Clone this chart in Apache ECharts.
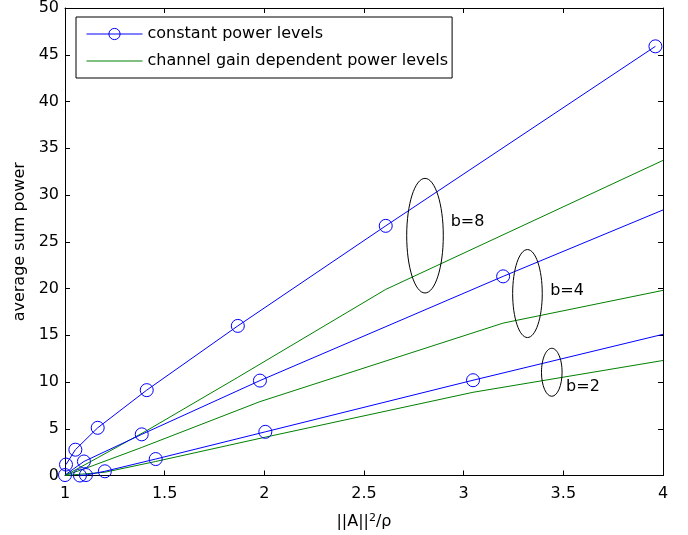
<!DOCTYPE html>
<html>
<head>
<meta charset="utf-8">
<script src="https://cdn.jsdelivr.net/npm/echarts@6/dist/echarts.min.js"></script>
<style>
  html, body { margin: 0; padding: 0; background: #fff; }
  #chart { width: 688px; height: 535px; }
</style>
</head>
<body>
<div id="chart"></div>
<script>
// constant power levels (blue, circles)
const b8ConstX = [1.005, 1.052, 1.164, 1.41, 1.867, 2.609, 3.962];
const b8ConstY = [1.17, 2.76, 5.1, 9.13, 16.0, 26.7, 45.9];
const b4ConstX = [1.0, 1.095, 1.385, 1.978, 3.198, 4.0];
const b4ConstY = [0.05, 1.5, 4.4, 10.15, 21.3, 28.4];
const b2ConstX = [1.075, 1.105, 1.2, 1.455, 2.005, 3.047, 4.0];
const b2ConstY = [0.0, 0.05, 0.45, 1.76, 4.67, 10.19, 15.1];

// channel gain dependent power levels (green, no markers)
const b8GainX = [1.0, 1.164, 1.41, 1.867, 2.609, 4.0];
const b8GainY = [0.0, 1.9, 4.8, 10.5, 19.9, 33.7];
const b4GainX = [1.0, 1.095, 1.385, 1.978, 3.198, 4.0];
const b4GainY = [0.0, 0.7, 3.0, 7.9, 16.3, 19.8];
const b2GainX = [1.0, 1.2, 1.455, 2.005, 3.047, 4.0];
const b2GainY = [0.0, 0.35, 1.5, 4.1, 8.9, 12.3];

// annotations: ellipse centres and labels
const groupLabels = ['b=8', 'b=4', 'b=2'];
const ellipseX = [2.806, 3.320, 3.442];
const ellipseY = [25.65, 19.46, 11.04];
const ellipseRx = [18.3, 14.8, 10.3];
const ellipseRy = [57.3, 44, 24];
const labelX = [2.935, 3.434, 3.514];
const labelY = [27.15, 19.8, 9.48];

const FONT = 'DejaVu Sans';
const BLUE = '#0000ff';
const GREEN = '#008000';
const zip = (xs, ys) => xs.map((x, i) => [x, ys[i]]);

function blue(xs, ys) {
    return {
        name: 'constant power levels',
        type: 'line',
        data: zip(xs, ys),
        symbol: v => (v[0] >= 4 ? 'none' : 'circle'),
        symbolSize: 13,
        lineStyle: { color: BLUE, width: 1 },
        itemStyle: { color: 'rgba(0,0,0,0)', borderColor: BLUE, borderWidth: 1 },
        emphasis: { disabled: true },
        z: 3
    };
}
function green(xs, ys) {
    return {
        name: 'channel gain dependent power levels',
        type: 'line',
        data: zip(xs, ys),
        symbol: 'none',
        lineStyle: { color: GREEN, width: 1 },
        itemStyle: { color: GREEN },
        emphasis: { disabled: true },
        z: 2
    };
}

const chart = echarts.init(document.getElementById('chart'));
const axisCommon = {
    axisLine: { show: true, onZero: false, lineStyle: { color: '#000', width: 1 } },
    axisTick: { show: true, inside: true, length: 5, lineStyle: { color: '#000' } },
    splitLine: { show: false }
};

chart.setOption({
    animation: false,
    backgroundColor: '#fff',
    textStyle: { fontFamily: FONT },
    grid: { left: 65, right: 25, top: 7, bottom: 57 },
    legend: {
        orient: 'vertical',
        left: 76,
        top: 17,
        padding: [9, 4, 9, 10],
        itemGap: 11,
        itemWidth: 56,
        itemHeight: 14,
        borderColor: '#000',
        borderWidth: 1,
        backgroundColor: '#fff',
        textStyle: { fontFamily: FONT, fontSize: 16, color: '#000' },
        data: [
            {
                name: 'constant power levels',
                itemStyle: { color: 'rgba(0,0,0,0)', borderColor: BLUE, borderWidth: 1 },
                lineStyle: { color: BLUE, width: 1 }
            },
            {
                name: 'channel gain dependent power levels',
                itemStyle: { color: 'rgba(0,0,0,0)', borderColor: 'rgba(0,0,0,0)', borderWidth: 0 },
                lineStyle: { color: GREEN, width: 1 }
            }
        ]
    },
    xAxis: [
        Object.assign({
            type: 'value', min: 1, max: 4, interval: 0.5, position: 'bottom',
            name: '||A||{sup|2}/ρ',
            nameLocation: 'middle', nameGap: 37,
            nameTextStyle: {
                fontFamily: FONT, fontSize: 16, color: '#000',
                rich: { sup: { fontFamily: FONT, fontSize: 11, verticalAlign: 'top', padding: [0, 0, 8, 0] } }
            },
            axisLabel: { fontFamily: FONT, fontSize: 16, color: '#000', margin: 10 }
        }, axisCommon),
        Object.assign({
            type: 'value', min: 1, max: 4, interval: 0.5, position: 'top',
            axisLabel: { show: false }
        }, axisCommon)
    ],
    yAxis: [
        Object.assign({
            type: 'value', min: 0, max: 50, interval: 5, position: 'left',
            name: 'average sum power',
            nameLocation: 'middle', nameGap: 37,
            nameTextStyle: { fontFamily: FONT, fontSize: 16, color: '#000' },
            axisLabel: { fontFamily: FONT, fontSize: 16, color: '#000', margin: 6 }
        }, axisCommon),
        Object.assign({
            type: 'value', min: 0, max: 50, interval: 5, position: 'right',
            axisLabel: { show: false }
        }, axisCommon)
    ],
    series: [
        blue(b8ConstX, b8ConstY),
        green(b8GainX, b8GainY),
        blue(b4ConstX, b4ConstY),
        green(b4GainX, b4GainY),
        blue(b2ConstX, b2ConstY),
        green(b2GainX, b2GainY),
        {
            type: 'custom',
            silent: true,
            clip: false,
            z: 4,
            data: groupLabels.map((t, i) => [ellipseX[i], ellipseY[i], labelX[i], labelY[i]]),
            renderItem: (params, api) => {
                const i = params.dataIndex;
                const c = api.coord([api.value(0), api.value(1)]);
                const l = api.coord([api.value(2), api.value(3)]);
                return {
                    type: 'group',
                    children: [
                        {
                            type: 'ellipse',
                            shape: { cx: c[0], cy: c[1], rx: ellipseRx[i], ry: ellipseRy[i] },
                            style: { fill: 'none', stroke: '#000', lineWidth: 1 }
                        },
                        {
                            type: 'text',
                            x: l[0], y: l[1],
                            style: {
                                text: groupLabels[i], fill: '#000',
                                font: '16px "' + FONT + '"',
                                textAlign: 'left', textVerticalAlign: 'middle'
                            }
                        }
                    ]
                };
            }
        }
    ]
});
</script>
</body>
</html>
